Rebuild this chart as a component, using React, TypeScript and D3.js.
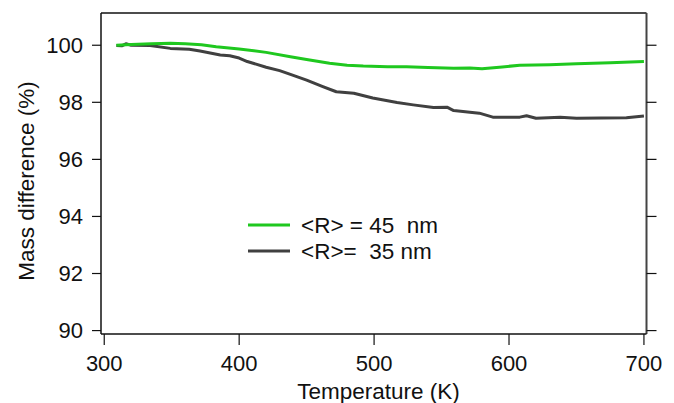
import React from "react";
import * as d3 from "d3";

const xTicks = [300, 400, 500, 600, 700];
const yTicks = [90, 92, 94, 96, 98, 100];

const tempGreen = [309, 320, 335, 349, 360, 372, 383, 400, 420, 438, 450, 467, 480, 492, 510, 524, 540, 559, 571, 580, 595, 608, 630, 650, 675, 700];
const massGreen = [100.0, 100.03, 100.05, 100.07, 100.05, 100.02, 99.95, 99.87, 99.75, 99.6, 99.5, 99.37, 99.3, 99.27, 99.25, 99.25, 99.22, 99.19, 99.2, 99.18, 99.24, 99.3, 99.32, 99.35, 99.39, 99.43];

const tempGray = [309, 313, 316, 320, 334, 349, 363, 371, 386, 393, 400, 406, 420, 430, 438, 450, 462, 472, 485, 499, 517, 529, 544, 554, 559, 571, 578, 588, 608, 613, 620, 638, 650, 687, 700];
const massGray = [99.99, 99.98, 100.05, 100.0, 99.99, 99.89, 99.86, 99.8, 99.66, 99.63, 99.55, 99.43, 99.23, 99.11, 98.98, 98.78, 98.55, 98.37, 98.32, 98.15, 97.99, 97.91, 97.82, 97.83, 97.71, 97.65, 97.62, 97.48, 97.48, 97.53, 97.44, 97.48, 97.44, 97.46, 97.52];

const seriesLabels = ["<R> = 45  nm", "<R>=  35 nm"];
const seriesColors = ["#1fc81f", "#404040"];

const W = 674;
const H = 403;
const L = 101, R = 646.5, T = 13, B = 334;
const FONT = "Arial, 'Liberation Sans', sans-serif";

export default function App() {
  const x = d3.scaleLinear().domain([297.6, 701.9]).range([L, R]);
  const y = d3.scaleLinear().domain([89.88, 101.13]).range([B, T]);
  const line = d3
    .line<[number, number]>()
    .x((d) => x(d[0]))
    .y((d) => y(d[1]));
  const green: [number, number][] = tempGreen.map((t, i) => [t, massGreen[i]]);
  const gray: [number, number][] = tempGray.map((t, i) => [t, massGray[i]]);
  const fs = 22;
  const fsT = 22.5;
  return (
    <svg width={W} height={H} style={{ position: "absolute", left: 0, top: 0, background: "#fff" }} fontFamily={FONT}>
      <rect x={0} y={0} width={W} height={H} fill="#fff" />
      <path d={line(gray) || ""} fill="none" stroke={seriesColors[1]} strokeWidth={3} strokeLinejoin="round" />
      <path d={line(green) || ""} fill="none" stroke={seriesColors[0]} strokeWidth={3} strokeLinejoin="round" />
      <line x1={L} x2={R} y1={T} y2={T} stroke="#111" strokeWidth={1.5} />
      <line x1={R} x2={R} y1={T} y2={B} stroke="#444" strokeWidth={2} />
      <line x1={L} x2={L} y1={T} y2={B} stroke="#111" strokeWidth={1.5} />
      <line x1={L} x2={R} y1={B} y2={B} stroke="#111" strokeWidth={1.5} />
      {yTicks.map((v) => (
        <g key={"y" + v}>
          <line x1={L - 9} x2={L} y1={y(v)} y2={y(v)} stroke="#111" strokeWidth={1.2} />
          <line x1={R} x2={R + 10} y1={y(v)} y2={y(v)} stroke="#111" strokeWidth={1.2} />
          <text x={83} y={y(v)} dy="0.36em" textAnchor="end" fontSize={fs} fill="#111">
            {v}
          </text>
        </g>
      ))}
      {xTicks.map((v) => (
        <g key={"x" + v}>
          <line x1={x(v)} x2={x(v)} y1={B} y2={B + 11} stroke="#111" strokeWidth={1.2} />
          <text x={x(v)} y={371} textAnchor="middle" fontSize={fs} fill="#111">
            {v}
          </text>
        </g>
      ))}
      <text x={378.5} y={399} textAnchor="middle" fontSize={fsT} fill="#111">
        Temperature (K)
      </text>
      <text transform={`translate(34, 181) rotate(-90)`} textAnchor="middle" fontSize={fsT} fill="#111">
        Mass difference (%)
      </text>
      {seriesLabels.map((s, i) => (
        <g key={s}>
          <line x1={248} x2={290} y1={225 + i * 26} y2={225 + i * 26} stroke={seriesColors[i]} strokeWidth={3} />
          <text x={301} y={232.5 + i * 26} fontSize={fsT} fill="#111" style={{ whiteSpace: "pre" }}>
            {s}
          </text>
        </g>
      ))}
    </svg>
  );
}
